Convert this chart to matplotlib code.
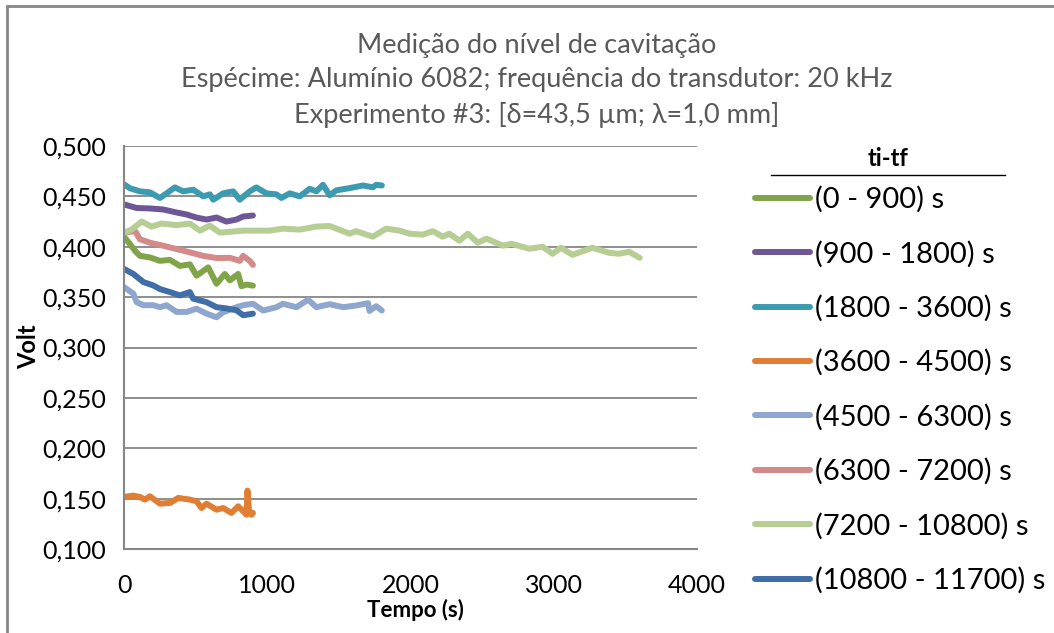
import matplotlib
matplotlib.use('Agg')
import matplotlib.pyplot as plt
from matplotlib.lines import Line2D
from matplotlib.patches import Rectangle
from matplotlib.ticker import FuncFormatter, MultipleLocator

plt.rcParams['font.family'] = ['Lato', 'DejaVu Sans']

# Tensão medida em cada intervalo (tempo relativo ao início do intervalo, s)
t_0_900 = [0, 42, 77, 111, 181, 251, 321, 390, 460, 506, 553, 588, 646, 704, 739, 797, 820, 855, 900]
v_0_900 = [0.410, 0.4025, 0.396, 0.391, 0.3894, 0.386, 0.387, 0.381, 0.3825, 0.3713, 0.376, 0.3795,
           0.3633, 0.373, 0.3666, 0.373, 0.3608, 0.3625, 0.3614]

t_900_1800 = [0, 88, 181, 274, 367, 437, 506, 576, 646, 715, 785, 832, 900]
v_900_1800 = [0.442, 0.4385, 0.438, 0.437, 0.434, 0.432, 0.429, 0.427, 0.429, 0.425, 0.427, 0.430, 0.431]

t_1800_3600 = [0, 42, 111, 181, 251, 297, 355, 413, 483, 553, 599, 623, 692, 762, 808, 878, 924, 994,
               1064, 1099, 1157, 1227, 1296, 1343, 1389, 1436, 1482, 1575, 1668, 1738, 1761, 1800]
v_1800_3600 = [0.462, 0.458, 0.455, 0.454, 0.4484, 0.453, 0.4589, 0.455, 0.4566, 0.450, 0.452, 0.4467,
               0.453, 0.455, 0.4467, 0.455, 0.4589, 0.453, 0.452, 0.4484, 0.453, 0.450, 0.4575, 0.455,
               0.4615, 0.451, 0.456, 0.4582, 0.4608, 0.459, 0.4615, 0.4608]

t_3600_4500 = [0, 65, 111, 146, 181, 251, 321, 379, 460, 506, 541, 576, 646, 692, 750, 797, 832, 855,
               862, 873, 890, 900]
v_3600_4500 = [0.1517, 0.153, 0.1517, 0.149, 0.1523, 0.145, 0.1457, 0.1507, 0.149, 0.1474, 0.1407, 0.145,
               0.139, 0.1407, 0.1358, 0.1424, 0.1374, 0.134, 0.158, 0.1374, 0.134, 0.1358]

t_4500_6300 = [0, 65, 88, 135, 204, 251, 297, 367, 437, 506, 576, 646, 692, 785, 832, 901, 971, 1064,
               1110, 1203, 1285, 1343, 1436, 1529, 1621, 1703, 1714, 1761, 1800]
v_4500_6300 = [0.360, 0.3535, 0.345, 0.342, 0.342, 0.340, 0.342, 0.3353, 0.3353, 0.3385, 0.3336, 0.330,
               0.335, 0.340, 0.342, 0.3434, 0.3367, 0.340, 0.3434, 0.340, 0.3474, 0.340, 0.343, 0.340,
               0.3417, 0.344, 0.3363, 0.341, 0.3367]

t_6300_7200 = [0, 77, 111, 181, 274, 367, 460, 553, 646, 739, 808, 832, 878, 900]
v_6300_7200 = [0.414, 0.4156, 0.4075, 0.404, 0.401, 0.3977, 0.3944, 0.391, 0.3888, 0.389, 0.386, 0.391,
               0.386, 0.382]

t_7200_10800 = [0, 53, 123, 193, 262, 367, 460, 530, 599, 669, 832, 1017, 1110, 1226, 1342, 1435, 1575,
                1620, 1737, 1830, 1923, 1993, 2086, 2156, 2225, 2270, 2342, 2400, 2469, 2530, 2647, 2705,
                2829, 2922, 2992, 3050, 3131, 3270, 3386, 3456, 3526, 3600]
v_7200_10800 = [0.414, 0.417, 0.425, 0.420, 0.423, 0.4215, 0.423, 0.416, 0.421, 0.414, 0.416, 0.416,
                0.418, 0.417, 0.420, 0.4206, 0.413, 0.4155, 0.410, 0.418, 0.416, 0.413, 0.412, 0.4155,
                0.410, 0.413, 0.406, 0.413, 0.404, 0.408, 0.401, 0.403, 0.398, 0.400, 0.393, 0.399,
                0.392, 0.399, 0.394, 0.393, 0.395, 0.389]

t_10800_11700 = [0, 65, 135, 204, 251, 321, 390, 460, 483, 576, 646, 715, 785, 832, 900]
v_10800_11700 = [0.378, 0.373, 0.365, 0.3616, 0.358, 0.355, 0.3517, 0.355, 0.3485, 0.345, 0.340, 0.3388,
                 0.337, 0.332, 0.3336]

labels = ['(0 - 900) s', '(900 - 1800) s', '(1800 - 3600) s', '(3600 - 4500) s',
          '(4500 - 6300) s', '(6300 - 7200) s', '(7200 - 10800) s', '(10800 - 11700) s']
times = [t_0_900, t_900_1800, t_1800_3600, t_3600_4500,
         t_4500_6300, t_6300_7200, t_7200_10800, t_10800_11700]
volts = [v_0_900, v_900_1800, v_1800_3600, v_3600_4500,
         v_4500_6300, v_6300_7200, v_7200_10800, v_10800_11700]
colors = ['#82A449', '#6E5796', '#3D9BB1', '#E07E33',
          '#8FA7CF', '#D48A88', '#B6CD94', '#3F6EA8']

W, H = 1054, 633
fig = plt.figure(figsize=(W / 100, H / 100), dpi=100)
ax = fig.add_axes([124 / W, 1 - 549 / H, 573 / W, 403 / H])

for t, v, c, lab in zip(times, volts, colors, labels):
    ax.plot(t, v, color=c, lw=4.3, label=lab,
            solid_capstyle='round', solid_joinstyle='round')

ax.set_xlim(0, 4000)
ax.set_ylim(0.1, 0.5)
ax.xaxis.set_major_locator(MultipleLocator(1000))
ax.yaxis.set_major_locator(MultipleLocator(0.05))
ax.yaxis.set_major_formatter(FuncFormatter(lambda v, p: f'{v:.3f}'.replace('.', ',')))
ax.tick_params(length=0, labelsize=18, colors='black')
ax.tick_params(axis='y', pad=13)
ax.tick_params(axis='x', pad=18)
ax.set_axisbelow(True)
ax.yaxis.grid(True, color='#868686', lw=1.3)
for s in ['top', 'right']:
    ax.spines[s].set_visible(False)
for s in ['left', 'bottom']:
    ax.spines[s].set_color('#868686')
    ax.spines[s].set_linewidth(1.5)

fig.canvas.draw()
ax.get_xticklabels()[-1].set_ha('right')

ax.set_xlabel('Tempo (s)', fontsize=16, fontweight='bold')
ax.xaxis.set_label_coords((415 - 124) / 573, (549 - 599) / 403)
ax.set_ylabel('Volt', fontsize=17, fontweight='bold')
ax.yaxis.set_label_coords((40 - 124) / 573, 0.501)

title_lines = ['Medição do nível de cavitação',
               'Espécime: Alumínio 6082; frequência do transdutor: 20 kHz',
               'Experimento #3: [δ=43,5 µm; λ=1,0 mm]']
for i, line in enumerate(title_lines):
    fig.text(537 / W, 1 - (45 + 35 * i) / H, line, ha='center', va='center',
             color='#595959', fontsize=19.5)

# legenda: título sublinhado à parte, entradas abaixo
fig.text(888 / W, 1 - 159 / H, 'ti-tf', ha='center', va='center',
         fontsize=17, fontweight='bold')
fig.add_artist(Line2D([771 / W, 1005 / W], [1 - 175 / H] * 2,
                      transform=fig.transFigure, color='black', lw=1))

leg = ax.legend(loc='upper left', bbox_to_anchor=(755 / W, 1 - 186 / H),
                bbox_transform=fig.transFigure, frameon=False, fontsize=21,
                handlelength=1.9, handletextpad=0.17, labelspacing=0.945,
                borderpad=0, borderaxespad=0)
for h in leg.legend_handles:
    h.set_linewidth(4.3)

fig.add_artist(Rectangle((7 / W, -0.1), 1.2, 1 - 6 / H + 0.1, transform=fig.transFigure,
                         fill=False, ec='#868686', lw=2))

plt.savefig('out.png', dpi=100)
plt.close()
